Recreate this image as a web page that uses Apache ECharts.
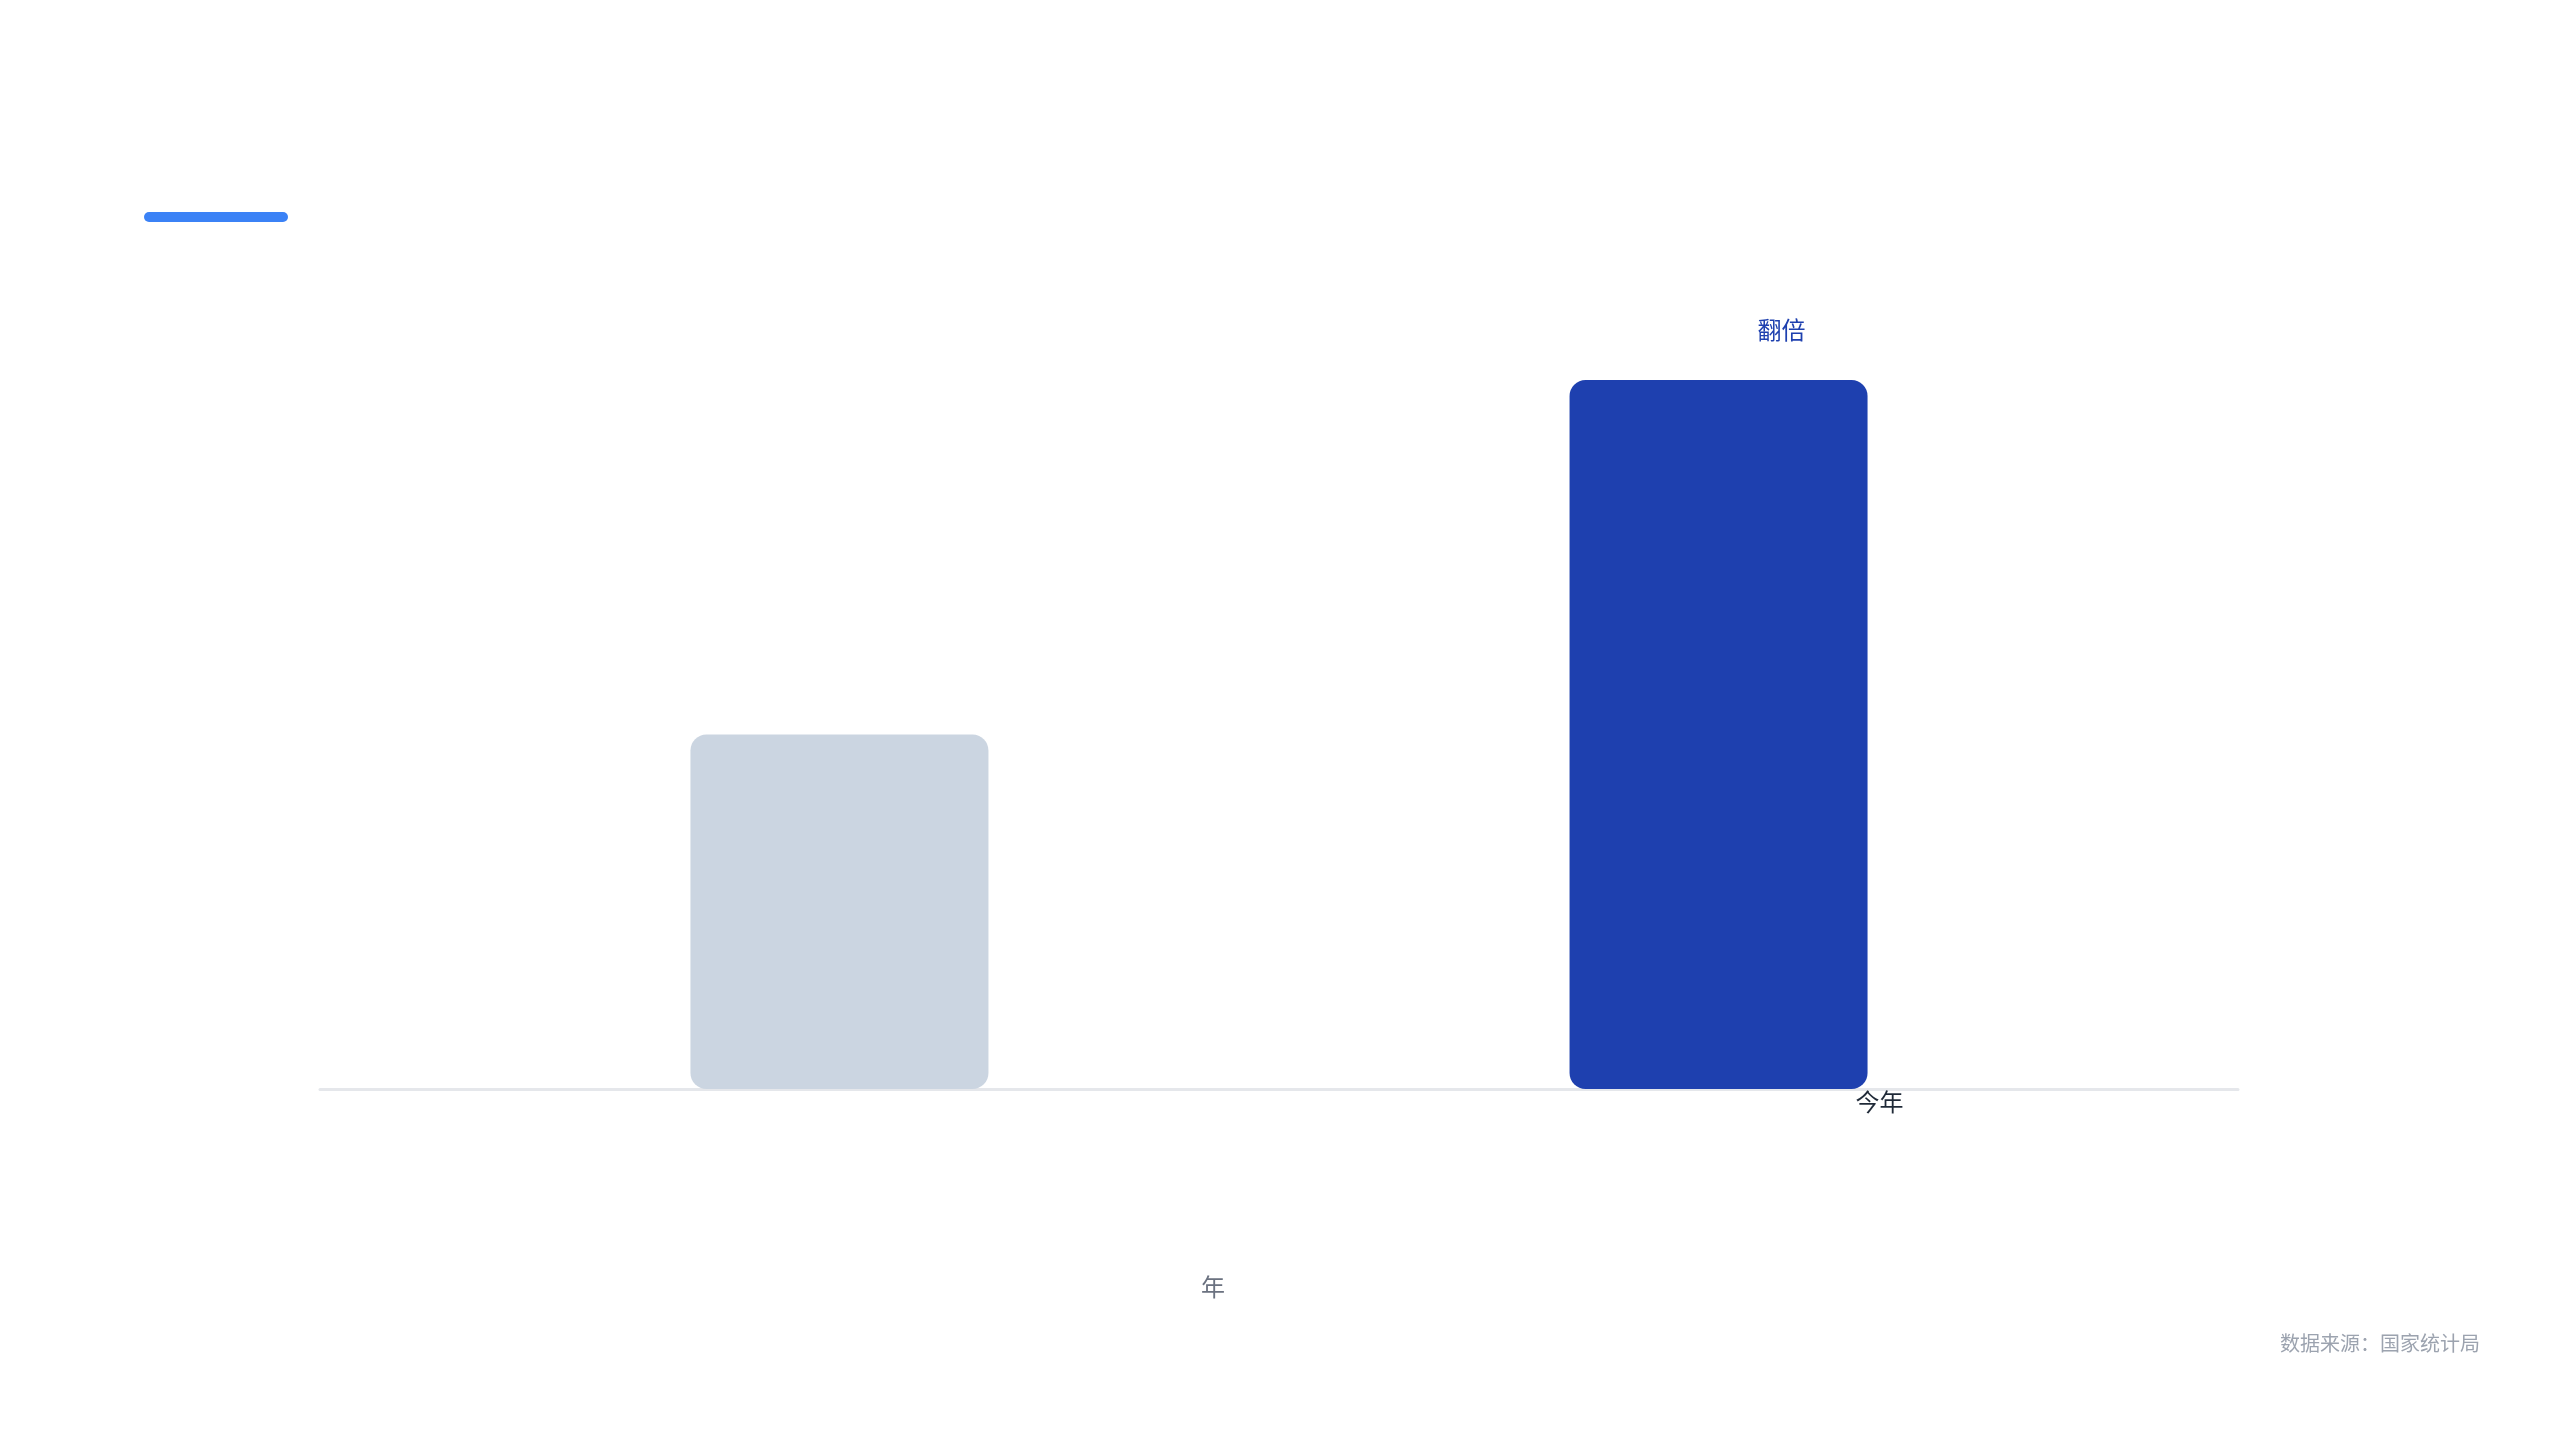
<!DOCTYPE html>
<html>
<head>
<meta charset="utf-8">
<script src="https://cdn.jsdelivr.net/npm/echarts@6/dist/echarts.min.js"></script>
<style>
html,body{margin:0;padding:0;background:#ffffff;}
#chart{width:2560px;height:1440px;}
</style>
</head>
<body>
<div id="chart"></div>
<script>
const categories = ['年'];
const seriesNames = ['去年', '今年'];
const previousValues = [50];
const currentValues = [100];
const topLabelText = '翻倍';
const footerText = '数据来源：国家统计局';
const yMax = 100;

const FONT = '"Noto Sans CJK SC", "Noto Sans", sans-serif';

const chart = echarts.init(document.getElementById('chart'));
chart.setOption({
  backgroundColor: '#ffffff',
  animation: false,
  grid: { left: 320, right: 322, top: 380, bottom: 351, containLabel: false },
  xAxis: {
    type: 'category',
    data: categories,
    axisLine: { show: true, lineStyle: { color: '#e5e7eb', width: 3 } },
    axisTick: { show: false },
    axisLabel: {
      show: true,
      margin: 186,
      color: '#6b7280',
      fontSize: 24,
      fontFamily: FONT,
      padding: [0, 132, 0, 0]
    },
    z: 1
  },
  yAxis: {
    type: 'value',
    min: 0,
    max: yMax,
    show: false,
    splitLine: { show: false }
  },
  series: [
    {
      name: seriesNames[0],
      type: 'bar',
      data: previousValues,
      barWidth: 298,
      barGap: '195%',
      itemStyle: { color: '#cbd5e1', borderRadius: 16 },
      z: 2
    },
    {
      name: seriesNames[1],
      type: 'bar',
      data: currentValues,
      barWidth: 298,
      barGap: '195%',
      itemStyle: { color: '#1e40af', borderRadius: 16 },
      label: {
        show: true,
        position: 'top',
        formatter: topLabelText,
        distance: 38,
        offset: [63, 0],
        color: '#1e40af',
        fontSize: 24,
        fontFamily: FONT
      },
      markPoint: {
        symbol: 'circle',
        symbolSize: 0,
        data: [{ coord: [0, 0] }],
        label: {
          show: true,
          formatter: seriesNames[1],
          position: 'inside',
          offset: [161, 13],
          color: '#1f2937',
          fontSize: 24,
          fontFamily: FONT
        }
      },
      z: 2
    }
  ],
  graphic: [
    {
      type: 'rect',
      left: 144,
      top: 212,
      shape: { width: 144, height: 10, r: 5 },
      style: { fill: '#3b82f6' }
    },
    {
      type: 'text',
      right: 80,
      top: 1333,
      style: {
        text: footerText,
        fill: '#9ca3af',
        fontSize: 20,
        fontFamily: FONT
      }
    }
  ]
});
</script>
</body>
</html>
